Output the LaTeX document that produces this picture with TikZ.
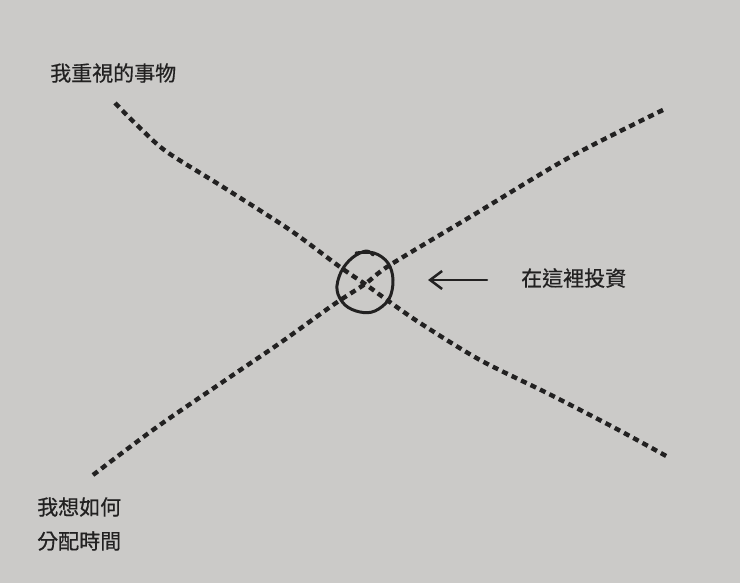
\documentclass[tikz,border=0pt]{standalone}
\usepackage{fontspec}
\newfontfamily\cjk[FakeBold=0.6]{Noto Sans CJK TC}
\usetikzlibrary{arrows.meta}
\definecolor{paper}{RGB}{203,202,200}
\definecolor{ink}{RGB}{34,33,33}
\tikzset{
  dotline/.style={draw=ink,line width=4.4pt,dash pattern=on 6pt off 4.5pt},
  knot/.style={draw=ink,line width=3pt,line cap=round,line join=round},
  label/.style={text=ink,font=\cjk\fontsize{21}{34}\selectfont,inner sep=0pt,anchor=west,align=left}
}
\begin{document}
\begin{tikzpicture}[x=1pt,y=-1pt,line join=round]
			\useasboundingbox[fill=paper] (0,0) rectangle (740,583);
			\path 
			(365,284) coordinate (X)
			(487,280) coordinate (tail)
			(428,280) coordinate (tip);
			% duong tu tren trai xuong duoi phai
			\draw[dotline] plot[smooth,tension=0.5] coordinates {(115,103) (140,128) (167,152) (223,187) (290,230) (340,267) (X) (387,300) (420,323) (480,360) (547,393) (613,427) (668,457)};
			% duong tu duoi trai len tren phai
			\draw[dotline] plot[smooth,tension=0.5] coordinates {(93,475) (157,427) (230,377) (280,343) (333,305) (X) (390,265) (470,217) (570,157) (667,108)};
			% vong tron ve tay
			\draw[knot] plot[smooth,tension=0.6] coordinates {(356,253) (374,253) (388,263) (393,280) (389,299) (375,311) (360,312) (345,305) (337,290) (341,272) (352,258) (366,251) (373,255)};
			\draw[ink,line width=2.5pt,line cap=round,-{Straight Barb[length=12pt,width=18pt,line width=2.5pt]}] (tail) -- (tip);
			% cac nhan
			\node[label] (values) at (50,73) {我重視的事物};
			\node[label] (invest) at (521,278) {在這裡投資};
			\node[label] (time) at (37,524) {我想如何\\分配時間};
\end{tikzpicture}
\end{document}
